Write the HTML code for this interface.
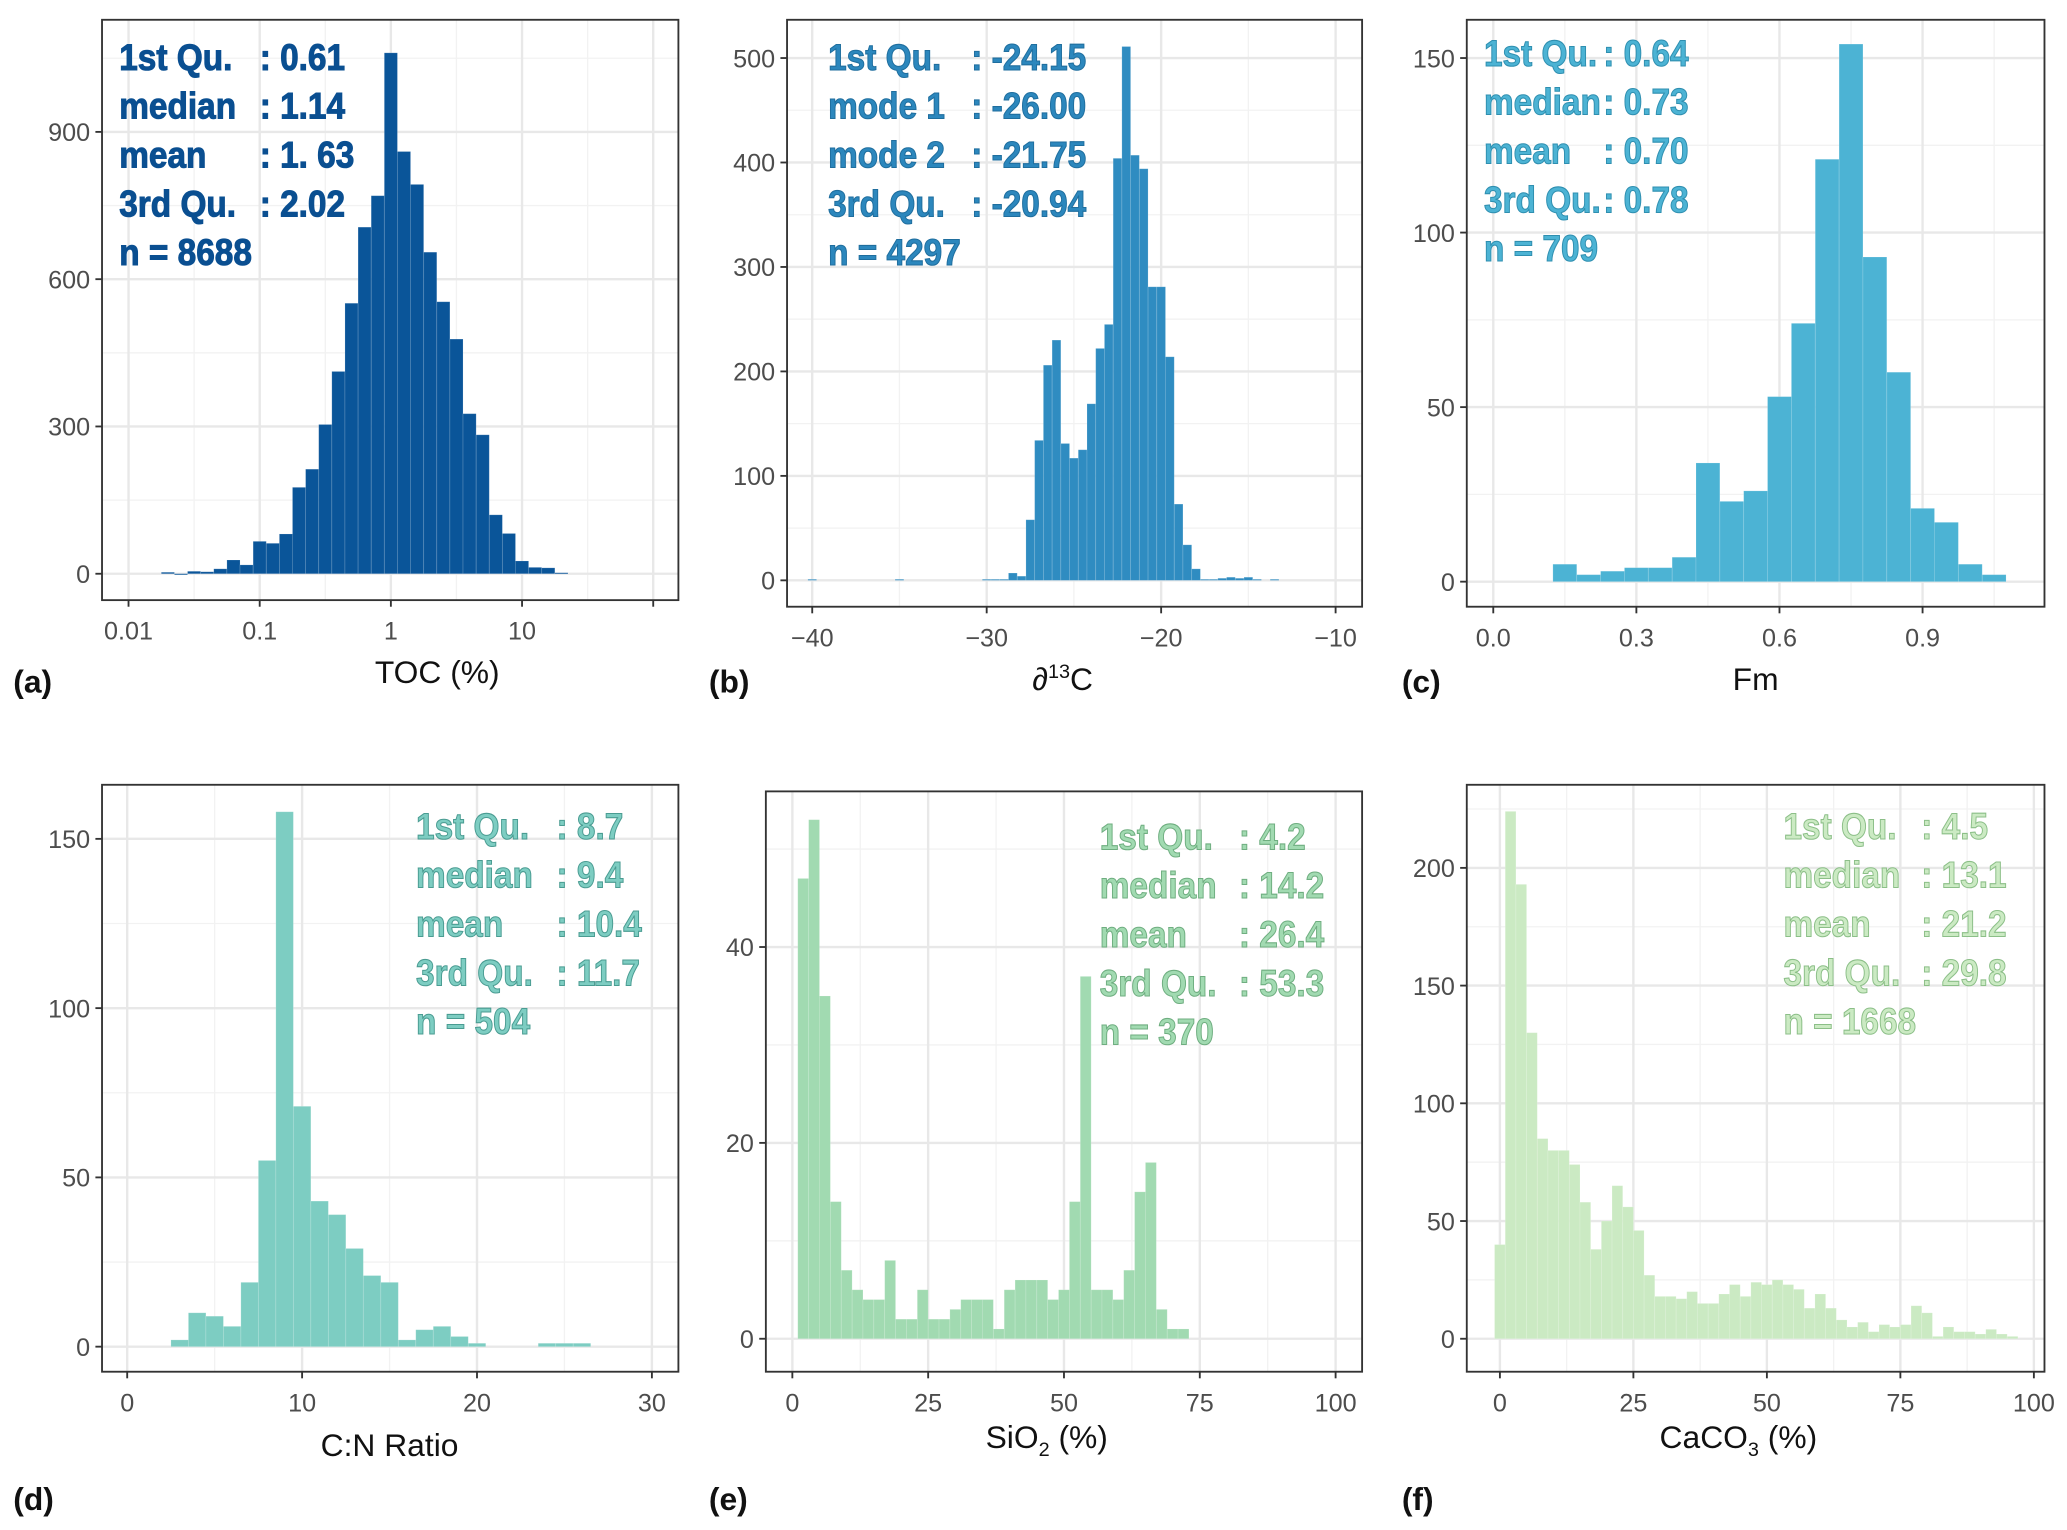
<!DOCTYPE html>
<html><head><meta charset="utf-8">
<style>
html,body{margin:0;padding:0;background:#fff;}
svg{display:block;}
.tick{font-family:"Liberation Sans",sans-serif;font-size:19px;fill:#4d4d4d;}
.atitle{font-family:"Liberation Sans",sans-serif;font-size:24px;fill:#111;}
.plab{font-family:"Liberation Sans",sans-serif;font-size:24px;font-weight:bold;fill:#111;}
.stat{font-family:"Liberation Sans",sans-serif;font-size:28px;font-weight:bold;stroke-width:0.8;}
</style></head>
<body>
<svg id="fig" width="2067" height="1530" viewBox="0 0 1560 1160" preserveAspectRatio="none" xmlns="http://www.w3.org/2000/svg"></svg>
<script>
// ---- data (bin centers / counts) ----
const tocCenters = [-1.7,-1.6,-1.5,-1.4,-1.3,-1.2,-1.1,-1.0,-0.9,-0.8,-0.7,-0.6,-0.5,-0.4,-0.3,-0.2,-0.1,0,0.1,0.2,0.3,0.4,0.5,0.6,0.7,0.8,0.9,1.0,1.1,1.2,1.3];
const tocCounts  = [3,0,5,4,10,28,18,66,62,81,176,213,304,412,551,706,770,1061,860,793,655,554,478,326,283,120,82,26,13,12,2];
const tocXTicks = [-2,-1,0,1,2];
const tocXLabels = ["0.01","0.1","1","10",""];
const tocYTicks = [0,300,600,900];

const d13Centers = [-40,-35,-30,-29.5,-29,-28.5,-28,-27.5,-27,-26.5,-26,-25.5,-25,-24.5,-24,-23.5,-23,-22.5,-22,-21.5,-21,-20.5,-20,-19.5,-19,-18.5,-18,-17.5,-17,-16.5,-16,-15.5,-15,-14.5,-13.5];
const d13Counts  = [1,1,1,1,1,7,4,58,134,206,230,131,117,125,169,222,245,404,511,407,394,281,281,214,73,34,11,1,1,2,3,2,3,1,1];
const d13XTicks = [-40,-30,-20,-10];
const d13YTicks = [0,100,200,300,400,500];

const fmCenters = [0.15,0.2,0.25,0.3,0.35,0.4,0.45,0.5,0.55,0.6,0.65,0.7,0.75,0.8,0.85,0.9,0.95,1.0,1.05];
const fmCounts  = [5,2,3,4,4,7,34,23,26,53,74,121,154,93,60,21,17,5,2];
const fmXTicks = [0,0.3,0.6,0.9];
const fmXLabels = ["0.0","0.3","0.6","0.9"];
const fmYTicks = [0,50,100,150];

const cnCenters = [3,4,5,6,7,8,9,10,11,12,13,14,15,16,17,18,19,20,24,25,26];
const cnCounts  = [2,10,9,6,19,55,158,71,43,39,29,21,19,2,5,6,3,1,1,1,1];
const cnXTicks = [0,10,20,30];
const cnYTicks = [0,50,100,150];

const siCenters = [2,4,6,8,10,12,14,16,18,20,22,24,26,28,30,32,34,36,38,40,42,44,46,48,50,52,54,56,58,60,62,64,66,68,70,72];
const siCounts  = [47,53,35,14,7,5,4,4,8,2,2,5,2,2,3,4,4,4,1,5,6,6,6,4,5,14,37,5,5,4,7,15,18,3,1,1];
const siXTicks = [0,25,50,75,100];
const siYTicks = [0,20,40];

const caCenters = [0,2,4,6,8,10,12,14,16,18,20,22,24,26,28,30,32,34,36,38,40,42,44,46,48,50,52,54,56,58,60,62,64,66,68,70,72,74,76,78,80,82,84,86,88,90,92,94,96];
const caCounts  = [40,224,193,130,85,80,80,74,58,38,50,65,56,46,27,18,18,17,20,15,15,19,23,18,24,23,25,23,21,13,19,13,8,5,7,3,6,5,6,14,11,1,5,3,3,2,4,2,1];
const caXTicks = [0,25,50,75,100];
const caYTicks = [0,50,100,150,200];

// ---- drawing ----
const NS = "http://www.w3.org/2000/svg";
const svg = document.getElementById("fig");
const SQ = 0.9;
function mk(tag, attrs, parent){
  const e = document.createElementNS(NS, tag);
  for (const k in attrs) e.setAttribute(k, attrs[k]);
  (parent||svg).appendChild(e);
  return e;
}

function panel(p){
  const g = mk("g", {});
  
  
  const sx = v => p.px[0] + (v - p.xv[0]) * (p.px[1]-p.px[0]) / (p.xv[1]-p.xv[0]);
  const sy = v => p.py[0] + (v - p.yv[0]) * (p.py[1]-p.py[0]) / (p.yv[1]-p.yv[0]);
  const b = p.box;
  mk("rect", {x:b[0], y:b[1], width:b[2]-b[0], height:b[3]-b[1], fill:"#fff"}, g);
  const minor = (ticks, s, lo, hi) => {
    const out = [];
    const st = ticks[1]-ticks[0];
    for (let i=-1;i<ticks.length;i++){ const v = ticks[0] + (i+0.5)*st; const q = s(v); if (q>lo && q<hi) out.push(q); }
    return out;
  };
  minor(p.xt, sx, b[0], b[2]).forEach(q => { mk("line",{x1:q,x2:q,y1:b[1],y2:b[3],stroke:"#f2f2f2","stroke-width":1}, g); });
  minor(p.yt, sy, b[1], b[3]).forEach(q => { mk("line",{x1:b[0],x2:b[2],y1:q,y2:q,stroke:"#f2f2f2","stroke-width":1}, g); });
  p.xt.forEach(v => { const q=sx(v); mk("line",{x1:q,x2:q,y1:b[1],y2:b[3],stroke:"#e8e8e8","stroke-width":1.8}, g); });
  p.yt.forEach(v => { const q=sy(v); mk("line",{x1:b[0],x2:b[2],y1:q,y2:q,stroke:"#e8e8e8","stroke-width":1.8}, g); });
  const y0 = sy(0);
  p.centers.forEach((c,i) => {
    const x1 = sx(c - p.w/2), x2 = sx(c + p.w/2), yt = sy(p.counts[i]);
    const r = mk("rect", {x:x1, y:yt, width:x2-x1, height:Math.max(0.8, y0-yt), fill:p.color, stroke:"rgba(255,255,255,0.18)", "stroke-width":0.6}, g);
    
    
  });
  mk("rect", {x:b[0], y:b[1], width:b[2]-b[0], height:b[3]-b[1], fill:"none", stroke:"#333", "stroke-width":1.4}, g);
  p.xt.forEach((v,i) => {
    const q = sx(v);
    mk("line",{x1:q,x2:q,y1:b[3],y2:b[3]+5,stroke:"#333","stroke-width":1.4}, g);
    const t = mk("text",{x:q, y:b[3]+30, "text-anchor":"middle", class:"tick"}, g);
    t.textContent = p.xl ? p.xl[i] : String(v).replace("-","\u2212");
    
    
  });
  p.yt.forEach(v => {
    const q = sy(v);
    mk("line",{x1:b[0]-5,x2:b[0],y1:q,y2:q,stroke:"#333","stroke-width":1.4}, g);
    const t = mk("text",{x:b[0]-9, y:q+7, "text-anchor":"end", class:"tick"}, g);
    t.textContent = String(v);
    
    
  });
  p.stats.forEach((s,i) => {
    const y = p.sy0 + i*37;
    const a = mk("text",{x:p.sx0/SQ, y:y, transform:"scale("+SQ+" 1)", class:"stat", fill:p.tcolor, stroke:p.tstroke}, g);
    a.textContent = s[0];
    
    
    if (s[1]) {
      const c = mk("text",{x:p.cx/SQ, y:y, transform:"scale("+SQ+" 1)", class:"stat", fill:p.tcolor, stroke:p.tstroke, "font-weight":"normal"}, g);
      c.textContent = s[1];
      
      
    }
  });
}

const P = [
 {name:"panel-a-toc", box:[77,15,512,455], px:[97,493], xv:[-2,2], py:[435,100], yv:[0,900], xt:tocXTicks, xl:tocXLabels, yt:tocYTicks, centers:tocCenters, counts:tocCounts, w:0.1, color:"#0a5599", tcolor:"#0a4f91", tstroke:"#0a4f91", sx0:90, cx:196, sy0:53,
  stats:[["1st Qu.",": 0.61"],["median",": 1.14"],["mean",": 1. 63"],["3rd Qu.",": 2.02"],["n = 8688",""]]},
 {name:"panel-b-d13c", box:[594,15,1028,460], px:[613,1008], xv:[-40,-10], py:[440,44], yv:[0,500], xt:d13XTicks, yt:d13YTicks, centers:d13Centers, counts:d13Counts, w:0.5, color:"#2f8cc1", tcolor:"#2c87bd", tstroke:"#1f6e9e", sx0:625, cx:733, sy0:53,
  stats:[["1st Qu.",": -24.15"],["mode 1",": -26.00"],["mode 2",": -21.75"],["3rd Qu.",": -20.94"],["n = 4297",""]]},
 {name:"panel-c-fm", box:[1107,15,1543,460], px:[1127,1451], xv:[0,0.9], py:[441,44], yv:[0,150], xt:fmXTicks, xl:fmXLabels, yt:fmYTicks, centers:fmCenters, counts:fmCounts, w:0.05, color:"#4cb3d4", tcolor:"#4cb3d4", tstroke:"#2f8fb0", sx0:1120, cx:1210, sy0:50,
  stats:[["1st Qu.",": 0.64"],["median",": 0.73"],["mean",": 0.70"],["3rd Qu.",": 0.78"],["n = 709",""]]},
 {name:"panel-d-cn", box:[77,595,512,1040], px:[96,492], xv:[0,30], py:[1021,636], yv:[0,150], xt:cnXTicks, yt:cnYTicks, centers:cnCenters, counts:cnCounts, w:1, color:"#7dcdc2", tcolor:"#7dcdc2", tstroke:"#4a9c92", sx0:314, cx:420, sy0:636,
  stats:[["1st Qu.",": 8.7"],["median",": 9.4"],["mean",": 10.4"],["3rd Qu.",": 11.7"],["n = 504",""]]},
 {name:"panel-e-sio2", box:[578,600,1028,1040], px:[598,1008], xv:[0,100], py:[1015,718], yv:[0,40], xt:siXTicks, yt:siYTicks, centers:siCenters, counts:siCounts, w:2, color:"#a1dab1", tcolor:"#a1dab1", tstroke:"#6fae80", sx0:830, cx:935, sy0:644,
  stats:[["1st Qu.",": 4.2"],["median",": 14.2"],["mean",": 26.4"],["3rd Qu.",": 53.3"],["n = 370",""]]},
 {name:"panel-f-caco3", box:[1107,595,1543,1040], px:[1132,1535], xv:[0,100], py:[1015,658], yv:[0,200], xt:caXTicks, yt:caYTicks, centers:caCenters, counts:caCounts, w:2, color:"#cbeac3", tcolor:"#cbeac3", tstroke:"#8cbf88", sx0:1346, cx:1450, sy0:636,
  stats:[["1st Qu.",": 4.5"],["median",": 13.1"],["mean",": 21.2"],["3rd Qu.",": 29.8"],["n = 1668",""]]}
];
P.forEach(panel);
</script>
<svg style="position:absolute;left:0;top:0" width="2067" height="1530" viewBox="0 0 1560 1160" preserveAspectRatio="none" xmlns="http://www.w3.org/2000/svg">
  <text class="atitle" x="330" y="518" text-anchor="middle">TOC (%)</text>
  <text class="atitle" x="802" y="523" text-anchor="middle">∂<tspan font-size="15" dy="-9">13</tspan><tspan dy="9">C</tspan></text>
  <text class="atitle" x="1325" y="523" text-anchor="middle">Fm</text>
  <text class="atitle" x="294" y="1104" text-anchor="middle">C:N Ratio</text>
  <text class="atitle" x="790" y="1098" text-anchor="middle">SiO<tspan font-size="15" dy="6">2</tspan><tspan dy="-6"> (%)</tspan></text>
  <text class="atitle" x="1312" y="1098" text-anchor="middle">CaCO<tspan font-size="15" dy="6">3</tspan><tspan dy="-6"> (%)</tspan></text>
  <text class="plab" x="10" y="525">(a)</text>
  <text class="plab" x="535" y="525">(b)</text>
  <text class="plab" x="1058" y="525">(c)</text>
  <text class="plab" x="10" y="1145">(d)</text>
  <text class="plab" x="535" y="1145">(e)</text>
  <text class="plab" x="1058" y="1145">(f)</text>
</svg>
</body></html>
